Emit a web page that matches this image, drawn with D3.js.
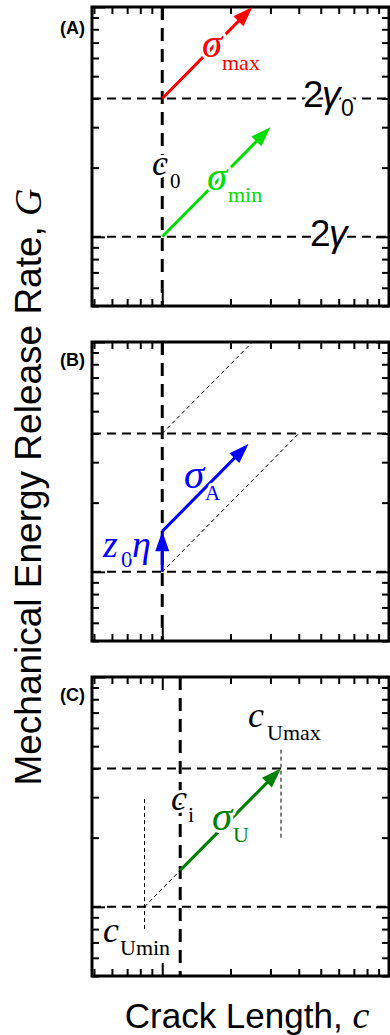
<!DOCTYPE html>
<html>
<head>
<meta charset="utf-8">
<script src="https://cdn.jsdelivr.net/npm/d3@7"></script>
<style>
body { margin: 0; background: #fff; }
</style>
</head>
<body>
<script>
// tick values (log axes, both c and G)
var majorTicks = [1, 10];
var minorTicks = [0.5, 0.6, 0.7, 0.8, 0.9, 2, 3, 4, 5, 6, 7, 8, 9];

var panelNames = ['(A)', '(B)', '(C)'];
var gammaLevels = [1, 4];          // G of 2γ and 2γ0
var crackLines = [1, 1, 1.2];      // c0, c0, ci

// panel A
var sigmaMax = [[1, 4], [2.5, 10]];
var sigmaMin = [[1, 1], [3, 3]];
// panel B
var z0eta = [[1, 1], [1, 1.5]];
var sigmaA = [[1, 1.5], [2.4, 3.6]];
var guidesB = [[[1, 1], [4, 4]], [[1, 4], [2.5, 10]]];
// panel C
var sigmaU = [[1.2, 1.44], [3.34, 4]];
var guidesC = [[[0.835, 1], [1.2, 1.44]], [[0.835, 0.8], [0.835, 3.0]], [[3.34, 2.0], [3.34, 4.9]]];

var W = 390, H = 1035;
var sans = '"Liberation Sans", Arial, sans-serif';
var serif = '"Liberation Serif", "Times New Roman", serif';

var svg = d3.select('body').append('svg').attr('width', W).attr('height', H);

var x = d3.scaleLog().domain([0.49, 10]).range([92, 389]);
var tops = [7, 342, 677];
var ph = 299;

function drawAxes(g, y) {
  var sides = [
    [d3.axisBottom, x, 'translate(0,' + y.range()[0] + ')'],
    [d3.axisTop, x, 'translate(0,' + y.range()[1] + ')'],
    [d3.axisLeft, y, 'translate(92,0)'],
    [d3.axisRight, y, 'translate(389,0)']
  ];
  sides.forEach(function(s) {
    [[majorTicks, 13], [minorTicks, 7]].forEach(function(t) {
      var ax = s[0](s[1]).tickValues(t[0]).tickSize(-t[1]).tickSizeOuter(0).tickFormat('');
      var a = g.append('g').attr('transform', s[2]).call(ax);
      a.select('.domain').remove();
      a.selectAll('line').attr('stroke', '#000').attr('stroke-width', 2);
    });
  });
  g.append('rect')
    .attr('x', 92).attr('y', y.range()[1])
    .attr('width', 389 - 92).attr('height', y.range()[0] - y.range()[1])
    .attr('fill', 'none').attr('stroke', '#000').attr('stroke-width', 3);
}

function arrow(g, y, p, color, head) {
  var x0 = x(p[0][0]), y0 = y(p[0][1]), x1 = x(p[1][0]), y1 = y(p[1][1]);
  var dx = x1 - x0, dy = y1 - y0, L = Math.sqrt(dx * dx + dy * dy);
  var ux = dx / L, uy = dy / L;
  var hl = head ? 20 : 0, hw = 7;
  g.append('line')
    .attr('x1', x0).attr('y1', y0)
    .attr('x2', x1 - ux * hl * 0.8).attr('y2', y1 - uy * hl * 0.8)
    .attr('stroke', color).attr('stroke-width', 3);
  if (head) {
    var bx = x1 - ux * hl, by = y1 - uy * hl;
    g.append('path')
      .attr('d', 'M' + x1 + ',' + y1 + 'L' + (bx - uy * hw) + ',' + (by + ux * hw) +
                 'L' + (bx + uy * hw) + ',' + (by - ux * hw) + 'Z')
      .attr('fill', color);
  }
}

function guide(g, y, p) {
  g.append('line')
    .attr('x1', x(p[0][0])).attr('y1', y(p[0][1]))
    .attr('x2', x(p[1][0])).attr('y2', y(p[1][1]))
    .attr('stroke', '#000').attr('stroke-width', 1).attr('stroke-dasharray', '4,3');
}

// label: list of pieces [text, x, y, size, family, italic]
function label(parts, color) {
  var t = svg.append('text')
    .attr('fill', color)
    .attr('stroke', '#fff').attr('stroke-width', 6).attr('paint-order', 'stroke')
    .attr('stroke-linejoin', 'round');
  parts.forEach(function(p) {
    t.append('tspan').attr('x', p[1]).attr('y', p[2])
      .attr('font-size', p[3]).attr('font-family', p[4])
      .attr('font-style', p[5] ? 'italic' : 'normal')
      .text(p[0]);
  });
}

tops.forEach(function(top, i) {
  var y = d3.scaleLog().domain([0.5, 10]).range([top + ph, top]);
  var g = svg.append('g');
  drawAxes(g, y);

  gammaLevels.forEach(function(G) {
    g.append('line')
      .attr('x1', 92).attr('x2', 389).attr('y1', y(G)).attr('y2', y(G))
      .attr('stroke', '#000').attr('stroke-width', 2).attr('stroke-dasharray', '9,6');
  });
  g.append('line')
    .attr('x1', x(crackLines[i])).attr('x2', x(crackLines[i]))
    .attr('y1', top).attr('y2', top + ph)
    .attr('stroke', '#000').attr('stroke-width', 3).attr('stroke-dasharray', '13,8');

  g.append('text')
    .attr('x', 85).attr('y', top + 27 - (i > 0 ? 3 : 0))
    .attr('text-anchor', 'end')
    .attr('font-family', sans).attr('font-weight', 'bold').attr('font-size', 18)
    .text(panelNames[i]);

  if (i === 0) {
    arrow(g, y, sigmaMax, '#ff0000', true);
    arrow(g, y, sigmaMin, '#00dd00', true);
  } else if (i === 1) {
    guidesB.forEach(function(p) { guide(g, y, p); });
    arrow(g, y, z0eta, '#0000ff', true);
    arrow(g, y, sigmaA, '#0000ff', true);
  } else {
    guidesC.forEach(function(p) { guide(g, y, p); });
    arrow(g, y, sigmaU, '#008000', true);
  }
});

// panel A labels
label([['\u03c3', 202, 57, 41, serif, true], ['max', 222, 70, 22, serif, false]], '#ff0000');
label([['\u03c3', 207, 190, 41, serif, true], ['min', 228, 202, 22, serif, false]], '#00dd00');
label([['c', 152, 175, 36, serif, true], ['0', 170, 188, 21, serif, false]], '#000');
label([['2', 303, 107, 37, sans, false], ['\u03b3', 322, 107, 37, sans, true], ['0', 341, 116, 23, sans, false]], '#000');
label([['2', 310, 246, 37, sans, false], ['\u03b3', 329, 246, 37, sans, true]], '#000');
// panel B labels
label([['\u03c3', 184, 488, 41, serif, true], ['A', 205, 500, 21, serif, false]], '#0000ff');
label([['z', 103, 557, 38, serif, true], ['0', 121, 567, 23, serif, false], ['\u03b7', 132, 557, 38, serif, true]], '#0000ff');
// panel C labels
label([['c', 248, 727, 36, serif, true], ['Umax', 267, 740, 22, serif, false]], '#000');
label([['c', 171, 810, 36, serif, true], ['i', 188, 822, 22, serif, false]], '#000');
label([['\u03c3', 212, 830, 41, serif, true], ['U', 233, 842, 22, serif, false]], '#008000');
label([['c', 103, 942, 36, serif, true], ['Umin', 120, 955, 22, serif, false]], '#000');

// axis titles
var xt = svg.append('text').attr('x', 247).attr('y', 1028).attr('text-anchor', 'middle')
  .attr('font-family', sans).attr('font-size', 35);
xt.append('tspan').text('Crack Length, ');
xt.append('tspan').attr('font-family', serif).attr('font-style', 'italic').attr('font-size', 38).text('c');

var yt = svg.append('text').attr('transform', 'translate(41,487) rotate(-90)').attr('text-anchor', 'middle')
  .attr('font-family', sans).attr('font-size', 37);
yt.append('tspan').text('Mechanical Energy Release Rate, ');
yt.append('tspan').attr('font-family', serif).attr('font-style', 'italic').attr('font-size', 38).text('G');
</script>
</body>
</html>
